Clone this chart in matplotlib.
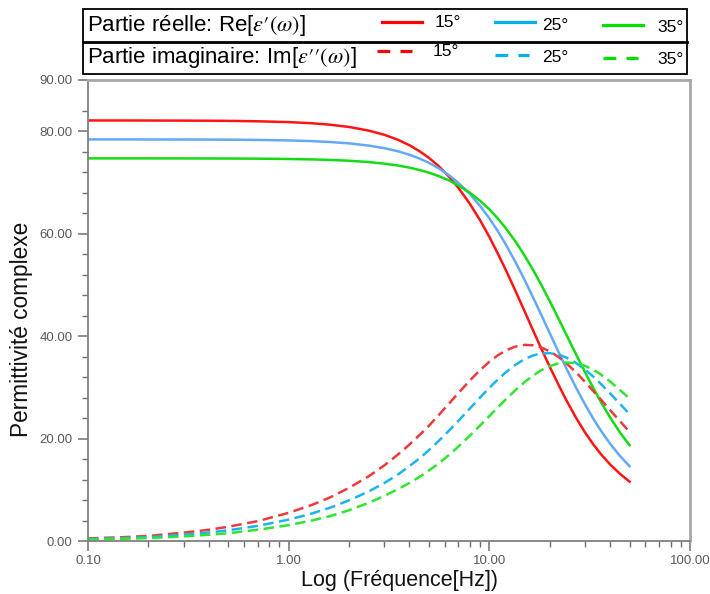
import matplotlib
matplotlib.use("Agg")
import matplotlib.pyplot as plt
from matplotlib.ticker import FixedLocator, NullFormatter, LogLocator
from matplotlib.patches import Rectangle
from matplotlib.lines import Line2D

plt.rcParams['font.family'] = ['Liberation Sans', 'DejaVu Sans']
plt.rcParams['mathtext.fontset'] = 'stix'

# ---- data ----
freq = [0.1, 0.15, 0.2, 0.3, 0.4, 0.5, 0.7, 1, 1.3, 1.6, 2, 2.5, 3, 3.5, 4, 4.5,
        5, 5.6, 6.3, 7, 8, 9, 10, 11, 12, 13.5, 15, 16.5, 18, 20, 22, 24, 27,
        30, 33, 36, 40, 45, 50]

re_15 = [82.1, 82.1, 82.09, 82.07, 82.05, 82.02, 81.94, 81.78, 81.56, 81.28,
         80.83, 80.13, 79.3, 78.34, 77.26, 76.07, 74.8, 73.16, 71.12, 68.98,
         65.82, 62.6, 59.38, 56.19, 53.16, 48.81, 44.81, 41.16, 37.87, 34.01,
         30.69, 27.74, 24.1, 21.17, 18.85, 16.95, 14.94, 13.03, 11.59]
re_25 = [78.4, 78.4, 78.39, 78.38, 78.37, 78.35, 78.3, 78.2, 78.07, 77.9, 77.63,
         77.2, 76.69, 76.09, 75.41, 74.65, 73.83, 72.75, 71.4, 69.94, 67.74,
         65.4, 62.99, 60.54, 58.09, 54.45, 50.94, 47.59, 44.45, 40.58, 37.11,
         34.0, 29.99, 26.64, 23.85, 21.52, 18.98, 16.5, 14.6]
re_35 = [74.7, 74.7, 74.7, 74.69, 74.68, 74.67, 74.64, 74.58, 74.5, 74.4, 74.24,
         73.98, 73.67, 73.31, 72.89, 72.42, 71.91, 71.24, 70.38, 69.44, 67.99,
         66.41, 64.75, 63.01, 61.21, 58.47, 55.69, 52.95, 50.27, 46.83, 43.59,
         40.57, 36.5, 32.93, 29.83, 27.13, 24.1, 21.06, 18.7]

im_15 = [0.5, 0.75, 0.99, 1.64, 2.19, 2.78, 3.87, 5.5, 7.02, 8.47, 10.38, 12.61,
         14.78, 16.86, 18.84, 20.72, 22.5, 24.6, 26.84, 28.85, 31.34, 33.37,
         34.99, 36.23, 37.14, 37.97, 38.29, 38.21, 37.84, 37.03, 35.99, 34.82,
         32.97, 31.05, 29.25, 27.6, 25.55, 23.3, 21.3]
im_25 = [0.38, 0.57, 0.76, 1.23, 1.66, 2.09, 2.95, 4.17, 5.35, 6.46, 7.94, 9.66,
         11.33, 12.97, 14.62, 16.16, 17.74, 19.56, 21.56, 23.43, 25.87, 28.02,
         29.9, 31.49, 32.84, 34.41, 35.52, 36.22, 36.6, 36.68, 36.41, 35.88,
         34.78, 33.47, 32.07, 30.65, 28.82, 26.68, 24.75]
im_35 = [0.28, 0.43, 0.57, 0.9, 1.21, 1.52, 2.19, 3.09, 3.99, 4.83, 6.0, 7.44,
         8.81, 10.11, 11.34, 12.54, 13.76, 15.14, 16.81, 18.41, 20.57, 22.56,
         24.39, 26.05, 27.53, 29.46, 31.04, 32.29, 33.26, 34.15, 34.65, 34.84,
         34.72, 34.2, 33.43, 32.5, 31.13, 29.4, 27.8]

temps = ["15°", "25°", "35°"]
y_major = [0, 20, 40, 60, 80, 90]
y_labels = ["0.00", "20.00", "40.00", "60.00", "80.00", "90.00"]
x_major = [0.1, 1, 10, 100]
x_labels = ["0.10", "1.00", "10.00", "100.00"]

solid_colors = ['#FF1414', '#62AAF8', '#14DC14']
dash_colors = ['#EE3A3A', '#1CB4F0', '#2EE62E']
legend_colors = ['#FF0000', '#00B0F0', '#00E000']

# ---- figure ----
fig = plt.figure(figsize=(7.1, 5.94), dpi=100)
ax = fig.add_axes([88 / 710, 1 - 541 / 594, 602 / 710, 461 / 594])

for vals, c in zip([re_15, re_25, re_35], solid_colors):
    ax.plot(freq, vals, color=c, lw=1.8, solid_joinstyle='round')
for vals, c in zip([im_15, im_25, im_35], dash_colors):
    ax.plot(freq, vals, color=c, lw=1.8, dashes=(4.2, 2.2))

ax.set_xscale('log')
ax.set_xlim(0.1, 100)
ax.set_ylim(0, 90)

ax.xaxis.set_major_locator(FixedLocator(x_major))
ax.set_xticklabels(x_labels)
ax.xaxis.set_minor_locator(LogLocator(base=10, subs=range(2, 10)))
ax.xaxis.set_minor_formatter(NullFormatter())

ax.yaxis.set_major_locator(FixedLocator(y_major))
ax.set_yticklabels(y_labels)
ax.yaxis.set_minor_locator(FixedLocator([v for v in range(4, 88, 4) if v % 20 != 0]))

ax.tick_params(axis='both', which='major', length=7, width=1.1, color='#707070',
               labelsize=9.5, labelcolor='#5A5A5A', pad=4)
ax.tick_params(axis='x', which='major', pad=3)
ax.tick_params(axis='both', which='minor', length=4, width=1.0, color='#707070')

for s in ['left', 'bottom']:
    ax.spines[s].set_color('#808080')
    ax.spines[s].set_linewidth(1.3)
for s in ['top', 'right']:
    ax.spines[s].set_color('#A8A8A8')
    ax.spines[s].set_linewidth(2.0)

ax.set_xlabel("Log (Fréquence[Hz])", fontsize=15.5, color='#111111')
ax.xaxis.set_label_coords(0.518, -0.062)
ax.set_ylabel("Permittivité complexe", fontsize=16.3, color='#111111')
ax.yaxis.set_label_coords(-0.092, 0.459)

# ---- legend box (pixel overlay) ----
lg = fig.add_axes([0, 0, 1, 1], zorder=10)
lg.set_xlim(0, 710)
lg.set_ylim(594, 0)
lg.axis('off')

lg.add_patch(Rectangle((83, 9), 604, 65, fill=False, ec='black', lw=1.3))
lg.add_line(Line2D([83, 687], [42, 42], color='black', lw=2.0))

lg.text(87, 25, r"Partie réelle: Re[$\varepsilon\prime(\omega)$]", fontsize=16,
        va='center', ha='left')
lg.text(87, 57, r"Partie imaginaire: Im[$\varepsilon\prime\prime(\omega)$]",
        fontsize=16, va='center', ha='left')

row1 = [(382, 422, 22, 435, 22.5), (495, 535, 22, 542, 25), (603, 643, 25, 657, 27)]
row2 = [(377, 412, 51, 433, 51), (495, 529, 55, 542, 58), (603, 638, 58, 657, 60)]
for (x0, x1, y, tx, ty), c, t in zip(row1, legend_colors, temps):
    lg.add_line(Line2D([x0, x1], [y, y], color=c, lw=2.3))
    lg.text(tx, ty, t, fontsize=12.5, va='center', ha='left')
for (x0, x1, y, tx, ty), c, t in zip(row2, legend_colors, temps):
    lg.add_line(Line2D([x0, x1], [y, y], color=c, lw=2.3, dashes=(4, 3.2)))
    lg.text(tx, ty, t, fontsize=12.5, va='center', ha='left')

fig.savefig("out.png", dpi=100)
